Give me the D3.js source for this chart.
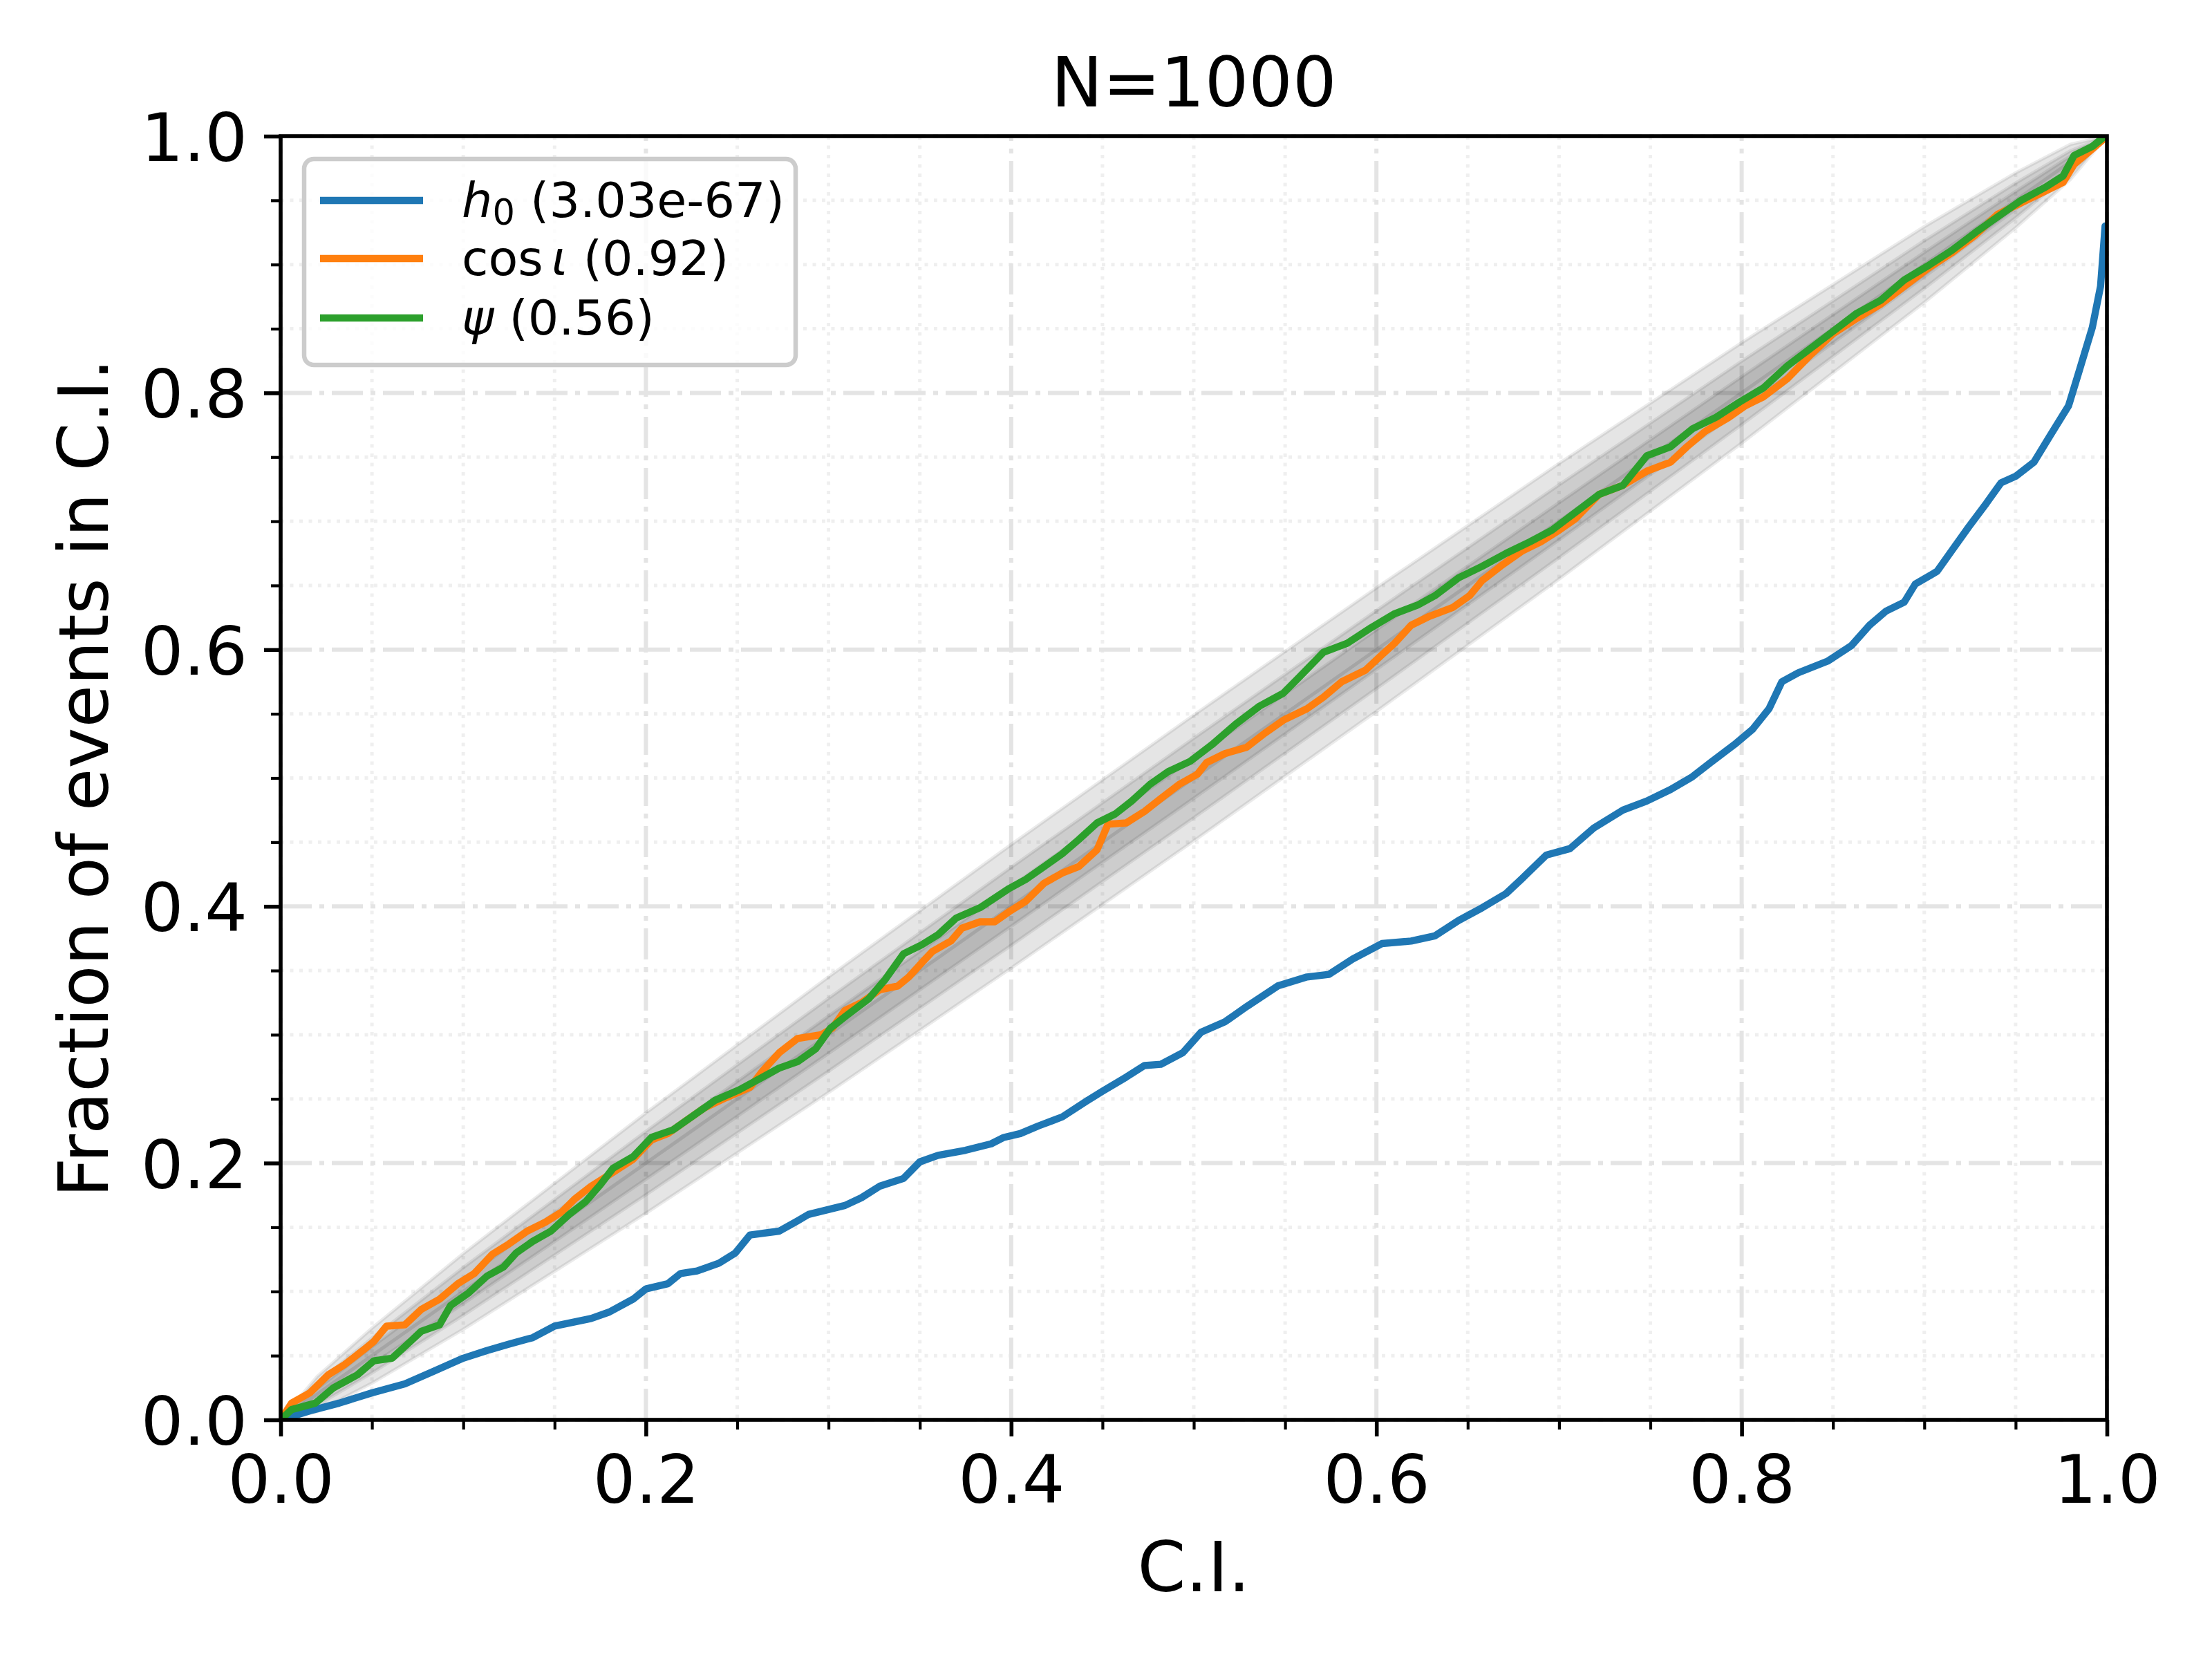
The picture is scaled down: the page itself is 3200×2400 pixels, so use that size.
<!DOCTYPE html>
<html>
<head>
<meta charset="utf-8">
<script src="https://cdn.jsdelivr.net/npm/d3@7"></script>
<style>
  body { margin: 0; background: #fff; }
  svg { display: block; }
</style>
</head>
<body>
<svg id="chart"></svg>
<script>
// P-P plot, N=1000: fraction of events inside each credible interval.
// Gray bands = binomial confidence regions, three parameter curves on top.

const W = 3200, H = 2400;
const M = { left: 406, right: 3048, top: 197, bottom: 2054 };

const FONT = "DejaVu Sans";
const COLORS = ["#1f77b4", "#ff7f0e", "#2ca02c"];

// axis ticks
const majorTicks = [0, 0.2, 0.4, 0.6, 0.8, 1.0];
const tickLabels = ["0.0", "0.2", "0.4", "0.6", "0.8", "1.0"];
const minorTicks = [0.05, 0.1, 0.15, 0.25, 0.3, 0.35, 0.45, 0.5, 0.55,
                    0.65, 0.7, 0.75, 0.85, 0.9, 0.95];

// legend: parameter name + p-value
const seriesNames = ["h0", "cosiota", "psi"];
const pValues = ["3.03e-67", "0.92", "0.56"];

// diagonal (expected) line
const diagonal = [[0, 0], [1, 1]];

// confidence bands: half-width around the diagonal, read at these C.I. values
const bandX = [0, 0.02, 0.05, 0.1, 0.2, 0.3, 0.4, 0.5, 0.6, 0.7, 0.8, 0.9, 0.95, 0.98, 1];
const bandHalfWidths = [
  [0, .0044, .0069, .0095, .0126, .0145, .0155, .0158, .0155, .0145, .0126, .0095, .0069, .0044, 0],
  [0, .0086, .0135, .0186, .0247, .0284, .0304, .0310, .0304, .0284, .0247, .0186, .0135, .0086, 0],
  [0, .0136, .0214, .0295, .0391, .0450, .0481, .0490, .0481, .0450, .0391, .0295, .0214, .0136, 0]
];

// h0 curve  [C.I., fraction]
const h0Curve = [
  [0, 0], [0.016, 0.007], [0.032, 0.013], [0.05, 0.021], [0.068, 0.028], [0.084, 0.038],
  [0.1, 0.048], [0.113, 0.054], [0.125, 0.059], [0.138, 0.064], [0.15, 0.073], [0.17, 0.079],
  [0.18, 0.084], [0.193, 0.094], [0.2, 0.102], [0.212, 0.106], [0.219, 0.114], [0.228, 0.116],
  [0.24, 0.122], [0.249, 0.130], [0.257, 0.144], [0.273, 0.147], [0.283, 0.155], [0.289, 0.160],
  [0.309, 0.167], [0.318, 0.173], [0.328, 0.182], [0.341, 0.188], [0.350, 0.201], [0.360, 0.206],
  [0.375, 0.210], [0.389, 0.215], [0.396, 0.220], [0.405, 0.223], [0.415, 0.229], [0.428, 0.236],
  [0.441, 0.248], [0.45, 0.256], [0.463, 0.267], [0.473, 0.276], [0.482, 0.277], [0.494, 0.286],
  [0.504, 0.302], [0.517, 0.310], [0.529, 0.322], [0.546, 0.338], [0.562, 0.345], [0.574, 0.347],
  [0.587, 0.359], [0.603, 0.371], [0.619, 0.373], [0.632, 0.377], [0.645, 0.389], [0.658, 0.399],
  [0.671, 0.410], [0.680, 0.422], [0.693, 0.440], [0.706, 0.445], [0.719, 0.461], [0.735, 0.475],
  [0.748, 0.482], [0.761, 0.491], [0.773, 0.501], [0.783, 0.512], [0.796, 0.526], [0.806, 0.538],
  [0.815, 0.554], [0.822, 0.575], [0.831, 0.582], [0.847, 0.591], [0.860, 0.603], [0.870, 0.619],
  [0.879, 0.630], [0.889, 0.637], [0.895, 0.651], [0.907, 0.661], [0.915, 0.677], [0.924, 0.695],
  [0.934, 0.714], [0.942, 0.730], [0.95, 0.735], [0.960, 0.746], [0.969, 0.767], [0.979, 0.790],
  [0.985, 0.818], [0.992, 0.851], [0.9965, 0.883], [0.999, 0.930], [1.0, 0.930]
];

// cos(iota) curve
const cosIotaCurve = [
  [0, 0], [0.006, 0.013], [0.016, 0.021], [0.026, 0.035], [0.035, 0.043], [0.045, 0.054],
  [0.051, 0.061], [0.058, 0.073], [0.068, 0.074], [0.077, 0.086], [0.087, 0.094], [0.097, 0.106],
  [0.106, 0.114], [0.116, 0.129], [0.125, 0.137], [0.135, 0.147], [0.145, 0.154], [0.154, 0.162],
  [0.161, 0.172], [0.170, 0.182], [0.180, 0.191], [0.193, 0.203], [0.203, 0.218], [0.212, 0.223],
  [0.222, 0.233], [0.232, 0.243], [0.244, 0.251], [0.257, 0.259], [0.264, 0.272], [0.273, 0.286],
  [0.283, 0.297], [0.296, 0.300], [0.302, 0.305], [0.309, 0.319], [0.318, 0.325], [0.328, 0.335],
  [0.338, 0.338], [0.344, 0.345], [0.351, 0.356], [0.357, 0.365], [0.367, 0.373], [0.373, 0.383],
  [0.383, 0.388], [0.391, 0.388], [0.399, 0.396], [0.408, 0.404], [0.418, 0.418], [0.428, 0.426],
  [0.437, 0.431], [0.447, 0.444], [0.453, 0.464], [0.463, 0.465], [0.473, 0.474], [0.482, 0.484],
  [0.492, 0.495], [0.502, 0.503], [0.507, 0.512], [0.517, 0.519], [0.529, 0.524], [0.539, 0.535],
  [0.549, 0.545], [0.562, 0.554], [0.571, 0.563], [0.581, 0.575], [0.594, 0.584], [0.603, 0.596],
  [0.610, 0.605], [0.619, 0.619], [0.629, 0.626], [0.642, 0.633], [0.651, 0.642], [0.658, 0.654],
  [0.668, 0.665], [0.680, 0.677], [0.690, 0.684], [0.700, 0.693], [0.709, 0.702], [0.722, 0.721],
  [0.735, 0.728], [0.748, 0.739], [0.761, 0.746], [0.770, 0.758], [0.780, 0.770], [0.793, 0.781],
  [0.802, 0.790], [0.812, 0.797], [0.825, 0.811], [0.838, 0.830], [0.850, 0.846], [0.863, 0.858],
  [0.876, 0.869], [0.889, 0.883], [0.902, 0.897], [0.915, 0.909], [0.928, 0.923], [0.940, 0.939],
  [0.953, 0.948], [0.966, 0.957], [0.976, 0.964], [0.982, 0.978], [0.992, 0.990], [1.0, 1.0]
];

// psi curve
const psiCurve = [
  [0, 0], [0.006, 0.008], [0.019, 0.013], [0.029, 0.025], [0.042, 0.035], [0.051, 0.046],
  [0.061, 0.048], [0.071, 0.061], [0.077, 0.069], [0.087, 0.074], [0.093, 0.089], [0.103, 0.099],
  [0.113, 0.112], [0.122, 0.119], [0.129, 0.130], [0.138, 0.139], [0.148, 0.147], [0.158, 0.160],
  [0.167, 0.170], [0.175, 0.183], [0.182, 0.196], [0.193, 0.205], [0.203, 0.220], [0.215, 0.226],
  [0.225, 0.236], [0.238, 0.249], [0.251, 0.257], [0.264, 0.267], [0.273, 0.274], [0.283, 0.279],
  [0.293, 0.289], [0.301, 0.305], [0.309, 0.314], [0.322, 0.328], [0.331, 0.343], [0.341, 0.363],
  [0.351, 0.370], [0.360, 0.378], [0.370, 0.391], [0.383, 0.399], [0.399, 0.414], [0.408, 0.421],
  [0.418, 0.431], [0.428, 0.441], [0.437, 0.452], [0.447, 0.465], [0.457, 0.472], [0.466, 0.482],
  [0.476, 0.495], [0.486, 0.505], [0.498, 0.513], [0.510, 0.526], [0.523, 0.542], [0.536, 0.556],
  [0.549, 0.566], [0.558, 0.579], [0.571, 0.598], [0.584, 0.605], [0.597, 0.617], [0.610, 0.628],
  [0.623, 0.635], [0.632, 0.642], [0.645, 0.656], [0.658, 0.665], [0.671, 0.675], [0.684, 0.684],
  [0.696, 0.693], [0.709, 0.707], [0.722, 0.721], [0.735, 0.728], [0.748, 0.751], [0.761, 0.758],
  [0.773, 0.772], [0.786, 0.781], [0.799, 0.793], [0.812, 0.804], [0.825, 0.821], [0.838, 0.835],
  [0.850, 0.848], [0.863, 0.862], [0.876, 0.872], [0.889, 0.888], [0.902, 0.899], [0.915, 0.911],
  [0.928, 0.925], [0.940, 0.937], [0.953, 0.950], [0.966, 0.960], [0.976, 0.969], [0.982, 0.985],
  [0.992, 0.992], [0.998, 0.999], [1.0, 1.0]
];

const curves = [h0Curve, cosIotaCurve, psiCurve];

draw();

function draw() {
  const svg = d3.select("#chart")
    .attr("width", W).attr("height", H)
    .attr("font-family", FONT);

  svg.append("rect").attr("width", W).attr("height", H).attr("fill", "#fff");

  const x = d3.scaleLinear().domain([0, 1]).range([M.left, M.right]);
  const y = d3.scaleLinear().domain([0, 1]).range([M.bottom, M.top]);

  svg.append("clipPath").attr("id", "plotclip")
    .append("rect")
    .attr("x", M.left).attr("y", M.top)
    .attr("width", M.right - M.left).attr("height", M.bottom - M.top);

  // minor grid (dotted)
  const grid = svg.append("g");
  minorTicks.forEach(t => {
    grid.append("line")
      .attr("x1", x(t)).attr("x2", x(t)).attr("y1", M.top).attr("y2", M.bottom)
      .attr("stroke", "#efefef").attr("stroke-width", 5).attr("stroke-dasharray", "5 8.5");
    grid.append("line")
      .attr("x1", M.left).attr("x2", M.right).attr("y1", y(t)).attr("y2", y(t))
      .attr("stroke", "#efefef").attr("stroke-width", 5).attr("stroke-dasharray", "5 8.5");
  });
  // major grid (dash-dot)
  majorTicks.forEach(t => {
    grid.append("line")
      .attr("x1", x(t)).attr("x2", x(t)).attr("y1", M.bottom).attr("y2", M.top)
      .attr("stroke", "#e4e4e4").attr("stroke-width", 6).attr("stroke-dasharray", "45 11 7 11");
    grid.append("line")
      .attr("x1", M.left).attr("x2", M.right).attr("y1", y(t)).attr("y2", y(t))
      .attr("stroke", "#e4e4e4").attr("stroke-width", 6).attr("stroke-dasharray", "45 11 7 11");
  });

  const plot = svg.append("g").attr("clip-path", "url(#plotclip)");

  // confidence bands (fill + slightly darker outline, like fill_between with alpha)
  const band = d3.area()
    .x(d => x(d[0]))
    .y0(d => y(Math.max(0, d[0] - d[1])))
    .y1(d => y(Math.min(1, d[0] + d[1])));

  bandHalfWidths.forEach(hw => {
    plot.append("path")
      .datum(bandX.map((v, i) => [v, hw[i]]))
      .attr("d", band)
      .attr("fill", "#000").attr("fill-opacity", 0.1)
      .attr("stroke", "#000").attr("stroke-opacity", 0.08).attr("stroke-width", 5);
  });

  const line = d3.line().x(d => x(d[0])).y(d => y(d[1]));

  plot.append("path")
    .datum(diagonal)
    .attr("d", line)
    .attr("fill", "none")
    .attr("stroke", "#000").attr("stroke-opacity", 0.1).attr("stroke-width", 5);

  // curves
  curves.forEach((c, i) => {
    plot.append("path")
      .datum(c)
      .attr("d", line)
      .attr("fill", "none")
      .attr("stroke", COLORS[i])
      .attr("stroke-width", 10.4)
      .attr("stroke-linejoin", "round")
      .attr("stroke-linecap", "square");
  });

  // axes
  const xAxis = d3.axisBottom(x).tickValues(majorTicks)
    .tickFormat((d, i) => tickLabels[i]).tickSize(24).tickPadding(24).tickSizeOuter(0);
  const xMinor = d3.axisBottom(x).tickValues(minorTicks).tickFormat("").tickSize(14).tickSizeOuter(0);
  const yAxis = d3.axisLeft(y).tickValues(majorTicks)
    .tickFormat((d, i) => tickLabels[i]).tickSize(24).tickPadding(24).tickSizeOuter(0);
  const yMinor = d3.axisLeft(y).tickValues(minorTicks).tickFormat("").tickSize(14).tickSizeOuter(0);

  function styleAxis(g, w, fs) {
    g.select(".domain").remove();
    g.selectAll(".tick line").attr("stroke", "#000").attr("stroke-width", w);
    g.selectAll(".tick text").attr("fill", "#000").attr("font-size", fs).attr("font-family", FONT);
  }

  svg.append("g").attr("transform", `translate(0,${M.bottom})`).call(xMinor).call(g => styleAxis(g, 4.2, 0));
  svg.append("g").attr("transform", `translate(${M.left},0)`).call(yMinor).call(g => styleAxis(g, 4.2, 0));
  svg.append("g").attr("transform", `translate(0,${M.bottom})`).call(xAxis)
    .call(g => styleAxis(g, 5.6, 97))
    .call(g => g.selectAll(".tick text").attr("dy", "0.74em"));
  svg.append("g").attr("transform", `translate(${M.left},0)`).call(yAxis)
    .call(g => styleAxis(g, 5.6, 97))
    .call(g => g.selectAll(".tick text").attr("dy", "0.365em"));

  // spines
  svg.append("rect")
    .attr("x", M.left).attr("y", M.top)
    .attr("width", M.right - M.left).attr("height", M.bottom - M.top)
    .attr("fill", "none").attr("stroke", "#000").attr("stroke-width", 5.6);

  // title and axis labels
  svg.append("text")
    .attr("x", (M.left + M.right) / 2).attr("y", 154)
    .attr("text-anchor", "middle").attr("font-size", 100).attr("fill", "#000")
    .text("N=1000");

  svg.append("text")
    .attr("x", (M.left + M.right) / 2).attr("y", 2302)
    .attr("text-anchor", "middle").attr("font-size", 100).attr("fill", "#000")
    .text("C.I.");

  svg.append("text")
    .attr("transform", `translate(156,${(M.top + M.bottom) / 2}) rotate(-90)`)
    .attr("text-anchor", "middle").attr("font-size", 100).attr("fill", "#000")
    .text("Fraction of events in C.I.");

  // legend
  const lg = svg.append("g");
  lg.append("rect")
    .attr("x", 440).attr("y", 230).attr("width", 711).attr("height", 298)
    .attr("rx", 14).attr("ry", 14)
    .attr("fill", "#fff").attr("fill-opacity", 0.8)
    .attr("stroke", "#cccccc").attr("stroke-width", 6.5);

  const rowY = [290, 374, 460];
  seriesNames.forEach((name, i) => {
    lg.append("line")
      .attr("x1", 463).attr("x2", 612).attr("y1", rowY[i]).attr("y2", rowY[i])
      .attr("stroke", COLORS[i]).attr("stroke-width", 10.4);

    const t = lg.append("text")
      .attr("x", 668).attr("y", rowY[i] + 24)
      .attr("font-size", 70).attr("fill", "#000");

    if (name === "h0") {
      t.append("tspan").attr("font-style", "italic").text("h");
      t.append("tspan").attr("font-size", 51).attr("dy", 11).text("0");
      t.append("tspan").attr("dy", -11).text(" (" + pValues[i] + ")");
    } else if (name === "cosiota") {
      t.append("tspan").text("cos");
      t.append("tspan").attr("dx", 12).attr("font-style", "italic").text("ι");
      t.append("tspan").text(" (" + pValues[i] + ")");
    } else {
      t.append("tspan").attr("font-style", "italic").text("ψ");
      t.append("tspan").text(" (" + pValues[i] + ")");
    }
  });
}
</script>
</body>
</html>
